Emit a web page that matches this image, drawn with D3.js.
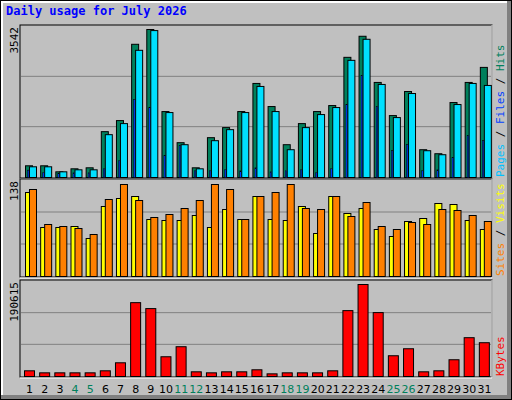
<!DOCTYPE html>
<html><head><meta charset="utf-8">
<script src="https://cdn.jsdelivr.net/npm/d3@7"></script>
<style>body{margin:0;background:#fff}</style>
</head><body>
<div id="chart"></div>
<script>
// day numbers and weekend flags
var days = d3.range(1, 32);
var weekend = [4, 5, 11, 12, 18, 19, 25, 26];

// top panel: hits / files / pages
var hits  = [280,280,136,208,232,1097,1362,3188,3542,1578,833,232,953,1194,1578,2251,1698,785,1290,1578,1722,2876,3380,2275,1482,2058,665,569,1794,2275,2635];
var files = [256,256,136,184,184,1025,1290,3044,3516,1554,785,208,881,1145,1554,2179,1578,665,1194,1506,1674,2804,3308,2227,1434,2010,641,545,1746,2251,2203];
var pages = [176,112,96,112,112,208,400,1866,1674,521,760,160,160,184,160,232,136,160,184,112,208,1746,2443,1698,641,785,160,184,473,1001,881];

// middle panel: visits / sites
var visits = [126,73.5,73.5,75,57,105,117,120,85.5,84,84,91.5,73.5,100.5,85.5,120,85.5,84,105,64.5,120,94.5,102,70.5,60,82.5,87,109.5,108,84,70.5];
var sites  = [130.5,78,75,72,63,115.5,138,114,88.5,93,102,114,138,130.5,85.5,120,126,138,102,100.5,120,90,111,75,70.5,81,78,100.5,99,91.5,82.5];

// bottom panel: kbytes
var kbytes = [11800,7600,7600,7600,7600,11800,28400,153000,140700,40900,61700,9700,7600,9700,9700,13900,5500,7600,7600,7600,11800,136500,190615,132400,43000,57500,9700,11800,34700,80400,70000];

var W = 512, H = 400;
var svg = d3.select("#chart").append("svg").attr("width", W).attr("height", H)
  .style("font-family", "'DejaVu Sans Mono', monospace");

// frame with bevel
svg.append("rect").attr("x", 0).attr("y", 0).attr("width", W).attr("height", H).attr("fill", "#000");
svg.append("rect").attr("x", 1).attr("y", 1).attr("width", W - 2).attr("height", H - 2).attr("fill", "#808080");
svg.append("rect").attr("x", 1).attr("y", 1).attr("width", W - 6).attr("height", H - 6).attr("fill", "#fff");
svg.append("rect").attr("x", 3).attr("y", 3).attr("width", W - 8).attr("height", H - 8).attr("fill", "#c0c0c0");

svg.append("text").attr("x", 6).attr("y", 15).attr("fill", "#0000ff")
  .attr("font-size", 12).attr("font-weight", "bold").text("Daily usage for July 2026");

var left = 21, right = 491;
var x = d3.scaleBand().domain(days).range([left, right]);

function panel(top, bottom) {
  // bevelled box: white outline with grid lines at thirds
  var g = svg.append("g");
  g.append("rect").attr("x", left - 1).attr("y", top - 1).attr("width", right - left + 2).attr("height", bottom - top + 2)
    .attr("fill", "none").attr("stroke", "#000");
  g.append("line").attr("x1", right + 1).attr("x2", right + 1).attr("y1", top - 1).attr("y2", bottom + 2).attr("stroke", "#fff");
  g.append("line").attr("x1", left - 1).attr("x2", right + 1).attr("y1", bottom + 2).attr("y2", bottom + 2).attr("stroke", "#fff");
  [1, 2].forEach(function (k) {
    var yy = bottom - (bottom - top) * k / 3;
    g.append("line").attr("x1", left).attr("x2", right).attr("y1", yy).attr("y2", yy).attr("stroke", "#808080");
  });
  return g;
}

function bars(g, data, y, dx, w, color) {
  g.selectAll(null).data(data).enter().append("rect")
    .attr("x", (d, i) => x(days[i]) + dx + 0.5)
    .attr("y", d => y(d) + 0.5)
    .attr("width", w)
    .attr("height", d => y(0) - y(d))
    .attr("fill", color).attr("stroke", "#000");
}

function vlabel(xx, yy, parts, anchor) {
  var t = svg.append("text").attr("transform", "translate(" + xx + "," + yy + ") rotate(-90)")
    .attr("text-anchor", anchor).attr("font-size", 11);
  parts.forEach(function (p) { t.append("tspan").attr("fill", p[1]).text(p[0]); });
}

// top panel
var g1 = panel(26, 177);
var y1 = d3.scaleLinear().domain([0, 3542]).range([177, 29]);
bars(g1, hits, y1, 4, 7, "#00805c");
bars(g1, files, y1, 8, 7, "#00e0ff");
g1.selectAll(null).data(pages).enter().append("rect")
  .attr("x", (d, i) => x(days[i]) + 6.5).attr("y", d => y1(d) + 0.5)
  .attr("width", 1.5).attr("height", d => y1(0) - y1(d))
  .attr("fill", "#0040ff").attr("stroke", "#000").attr("stroke-width", 0.5);
vlabel(18, 27, [["3542", "#000"]], "end");
vlabel(504, 177, [["Pages", "#00c0ff"], [" / ", "#000"], ["Files", "#0040ff"], [" / ", "#000"], ["Hits", "#00805c"]], "start");

// middle panel
var g2 = panel(180, 276);
var y2 = d3.scaleLinear().domain([0, 138]).range([276, 184]);
bars(g2, visits, y2, 4, 7, "#ffff00");
bars(g2, sites, y2, 8, 7, "#ff8000");
vlabel(18, 181, [["138", "#000"]], "end");
vlabel(504, 276, [["Sites", "#ff8000"], [" / ", "#000"], ["Visits", "#ffff00"]], "start");

// bottom panel
var g3 = panel(281, 376);
var y3 = d3.scaleLinear().domain([0, 190615]).range([376, 284]);
bars(g3, kbytes, y3, 3, 10, "#ff0000");
vlabel(18, 282, [["190615", "#000"]], "end");
vlabel(504, 376, [["KBytes", "#ff0000"]], "start");

// day labels
svg.selectAll(null).data(days).enter().append("text")
  .attr("x", d => x(d) + x.bandwidth() / 2 + 1).attr("y", 393)
  .attr("text-anchor", "middle").attr("font-size", 11)
  .attr("font-family", "'DejaVu Sans', sans-serif")
  .attr("fill", d => weekend.indexOf(d) >= 0 ? "#00805c" : "#000")
  .text(d => d);
</script>
</body></html>
